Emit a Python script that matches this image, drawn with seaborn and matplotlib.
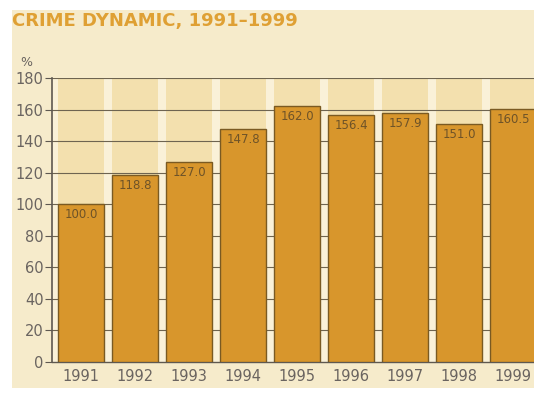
import matplotlib
matplotlib.use("Agg")
import matplotlib.pyplot as plt
import matplotlib.patches as mpatches
import seaborn as sns
import pandas as pd

years = ["1991", "1992", "1993", "1994", "1995", "1996", "1997", "1998", "1999"]
values = [100.0, 118.8, 127.0, 147.8, 162.0, 156.4, 157.9, 151.0, 160.5]
yticks = [0, 20, 40, 60, 80, 100, 120, 140, 160, 180]

df = pd.DataFrame({"year": years, "value": values})

sns.set_theme(style="white")
plt.rcParams["font.family"] = ["DejaVu Sans"]

W, H = 534, 394
fig = plt.figure(figsize=(W / 100, H / 100), dpi=100, facecolor="white")

# cream page behind everything
fig.patches.append(mpatches.Rectangle((12 / W, 6 / H), 1 - 12 / W, 1 - 16 / H,
                                      transform=fig.transFigure, facecolor="#f6ebcb",
                                      edgecolor="none", zorder=-10))

ax = fig.add_axes([52 / W, (H - 362) / H, (W - 52) / W, 284 / H])
ax.set_zorder(1)
ax.set_facecolor("#f3e0ae")

# light bands between bars
for i in range(len(years) + 1):
    ax.axvspan(i - 0.5 - 0.07, i - 0.5 + 0.07, color="#faf1d8", zorder=0.2, lw=0)

# reference lines behind the bars
for t in yticks[1:]:
    ax.axhline(t, color="#6e6450", linewidth=0.8, zorder=0.5)

sns.barplot(data=df, x="year", y="value", ax=ax, color="#d8962c",
            width=0.86, saturation=1, edgecolor="#7a5a22", linewidth=1.0, zorder=3)

for i, v in enumerate(values):
    ax.text(i, v - 2.5, f"{v:.1f}", ha="center", va="top", fontsize=8.5,
            color="#6e5328", zorder=4)

ax.set_xlim(-0.54, 8.39)
ax.set_ylim(0, 180)
ax.set_yticks(yticks)
ax.grid(False)

for s in ["top", "right"]:
    ax.spines[s].set_visible(False)
ax.spines["left"].set_color("#5e5850")
ax.spines["left"].set_linewidth(1.2)
ax.spines["bottom"].set_color("#5e5850")
ax.spines["bottom"].set_linewidth(1.0)

ax.tick_params(axis="y", length=5, width=0.8, color="#5e5850", labelsize=10.5,
               labelcolor="#6a6460", pad=1, left=True)
ax.tick_params(axis="x", length=0, labelsize=10.5, labelcolor="#6a6460", pad=5)
ax.set_xlabel("")
ax.set_ylabel("")

fig.text(20 / W, 1 - 62 / H, "%", fontsize=9, color="#6a6460", ha="left", va="center")
fig.text(12 / W, 1 - 21 / H, "CRIME DYNAMIC, 1991\u20131999", fontsize=13,
         fontweight="heavy", color="#dfa034", ha="left", va="center")

fig.savefig("out.png", dpi=100, facecolor=fig.get_facecolor())
